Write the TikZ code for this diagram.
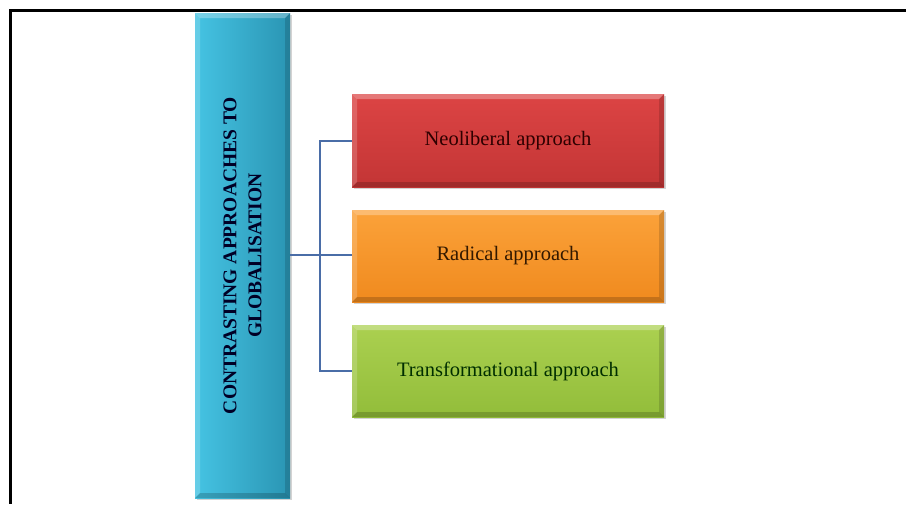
\documentclass[tikz,border=0pt]{standalone}
\usepackage{fontspec}
\setmainfont{Liberation Serif}
\usetikzlibrary{shadows}
\definecolor{bluelight}{HTML}{45C3E3}
\definecolor{bluedark}{HTML}{2A95B3}
\definecolor{redlight}{HTML}{DC4444}
\definecolor{reddark}{HTML}{C33535}
\definecolor{orglight}{HTML}{FBA23A}
\definecolor{orgdark}{HTML}{F08A1E}
\definecolor{grnlight}{HTML}{ABD050}
\definecolor{grndark}{HTML}{92BD3A}
\definecolor{linkblue}{HTML}{4A6DA7}
\tikzset{
  box/.style={rectangle, inner sep=0pt, outer sep=0pt, minimum width=312pt, minimum height=92pt,
    font=\fontsize{20.5}{24}\selectfont, align=center,
    drop shadow={opacity=0.35, shadow xshift=1.5pt, shadow yshift=-2pt}},
  mainbox/.style={rectangle, inner sep=0pt, outer sep=0pt, minimum width=95pt, minimum height=485pt,
    left color=bluelight, right color=bluedark,
    drop shadow={opacity=0.35, shadow xshift=1.5pt, shadow yshift=-2pt}},
  link/.style={draw=linkblue, line width=2pt},
  frame/.style={line width=3pt, black}
}
\begin{document}
\begin{tikzpicture}[x=1pt,y=-1pt]
\useasboundingbox (0,0) rectangle (906,504);
\draw[frame] (906,10) -- (10,10) -- (10,504);
% main box
\node[mainbox] (main) at (242.5,255.5) {};
% branch boxes
\node[box, top color=redlight, bottom color=reddark, minimum height=93pt, text=black!82!red] (neo) at (508,140.5) {Neoliberal approach};
\node[box, top color=orglight, bottom color=orgdark, text=black!80!orange] (rad) at (508,256) {Radical approach};
\node[box, top color=grnlight, bottom color=grndark, text=black!82!green] (trans) at (508,371) {Transformational approach};
% bevel overlays
\foreach \n in {main,neo,rad,trans}{
  \fill[white,opacity=0.28] (\n.north west) -- (\n.north east) -- ([xshift=-5pt,yshift=-5pt]\n.north east) -- ([xshift=5pt,yshift=-5pt]\n.north west) -- cycle;
  \fill[white,opacity=0.18] (\n.north west) -- ([xshift=5pt,yshift=-5pt]\n.north west) -- ([xshift=5pt,yshift=5pt]\n.south west) -- (\n.south west) -- cycle;
  \fill[black,opacity=0.18] (\n.south west) -- (\n.south east) -- ([xshift=-5pt,yshift=5pt]\n.south east) -- ([xshift=5pt,yshift=5pt]\n.south west) -- cycle;
  \fill[black,opacity=0.14] (\n.north east) -- ([xshift=-5pt,yshift=-5pt]\n.north east) -- ([xshift=-5pt,yshift=5pt]\n.south east) -- (\n.south east) -- cycle;
}
\node[rotate=90, align=center, text=black!85!blue, font=\bfseries\fontsize{19.5}{25}\selectfont] (maintext) at (main.center) {CONTRASTING APPROACHES TO\\GLOBALISATION};
% connectors
\coordinate (j) at (320,255);
\draw[link] (main.east |- j) -- (rad.west |- j);
\draw[link] (neo.west) -| (j) |- (trans.west);
\end{tikzpicture}
\end{document}
